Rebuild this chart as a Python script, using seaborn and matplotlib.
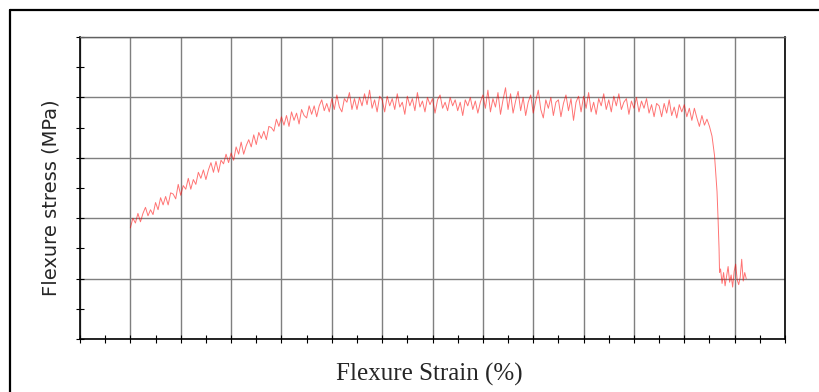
"""
Flexure stress-strain curve, redrawn with seaborn.
"""

import numpy as np
import pandas as pd
import matplotlib.pyplot as plt
from matplotlib.lines import Line2D
from matplotlib.ticker import MultipleLocator, NullFormatter
import seaborn as sns

# Strain (%) readings, one every 0.005 along the loading part
strain = [
    0.100, 0.105, 0.110, 0.115, 0.120, 0.125, 0.130, 0.135, 0.140, 0.145,
    0.150, 0.155, 0.160, 0.165, 0.170, 0.175, 0.180, 0.185, 0.190, 0.195,
    0.200, 0.205, 0.210, 0.215, 0.220, 0.225, 0.230, 0.235, 0.240, 0.245,
    0.250, 0.255, 0.260, 0.265, 0.270, 0.275, 0.280, 0.285, 0.290, 0.295,
    0.300, 0.305, 0.310, 0.315, 0.320, 0.325, 0.330, 0.335, 0.340, 0.345,
    0.350, 0.355, 0.360, 0.365, 0.370, 0.375, 0.380, 0.385, 0.390, 0.395,
    0.400, 0.405, 0.410, 0.415, 0.420, 0.425, 0.430, 0.435, 0.440, 0.445,
    0.450, 0.455, 0.460, 0.465, 0.470, 0.475, 0.480, 0.485, 0.490, 0.495,
    0.500, 0.505, 0.510, 0.515, 0.520, 0.525, 0.530, 0.535, 0.540, 0.545,
    0.550, 0.555, 0.560, 0.565, 0.570, 0.575, 0.580, 0.585, 0.590, 0.595,
    0.600, 0.605, 0.610, 0.615, 0.620, 0.625, 0.630, 0.635, 0.640, 0.645,
    0.650, 0.655, 0.660, 0.665, 0.670, 0.675, 0.680, 0.685, 0.690, 0.695,
    0.700, 0.705, 0.710, 0.715, 0.720, 0.725, 0.730, 0.735, 0.740, 0.745,
    0.750, 0.755, 0.760, 0.765, 0.770, 0.775, 0.780, 0.785, 0.790, 0.795,
    0.800, 0.805, 0.810, 0.815, 0.820, 0.825, 0.830, 0.835, 0.840, 0.845,
    0.850, 0.855, 0.860, 0.865, 0.870, 0.875, 0.880, 0.885, 0.890, 0.895,
    0.900, 0.905, 0.910, 0.915, 0.920, 0.925, 0.930, 0.935, 0.940, 0.945,
    0.950, 0.955, 0.960, 0.965, 0.970, 0.975, 0.980, 0.985, 0.990, 0.995,
    1.000, 1.005, 1.010, 1.015, 1.020, 1.025, 1.030, 1.035, 1.040, 1.045,
    1.050, 1.055, 1.060, 1.065, 1.070, 1.075, 1.080, 1.085, 1.090, 1.095,
    1.100, 1.105, 1.110, 1.115, 1.120, 1.125, 1.130, 1.135, 1.140, 1.145,
    1.150, 1.155, 1.160, 1.165, 1.170, 1.175, 1.180, 1.185, 1.190, 1.195,
    1.200, 1.205, 1.210, 1.215, 1.220, 1.225, 1.230, 1.235, 1.240, 1.245,
    1.250, 1.255, 1.260, 1.265,
]

# Stress (MPa) readings matching the strain list above
stress = [
    92, 100, 96, 104, 97, 104, 109, 102, 107, 103,
    113, 107, 117, 111, 118, 111, 121, 120, 116, 128,
    119, 127, 124, 133, 124, 132, 128, 138, 133, 140,
    132, 140, 146, 138, 147, 138, 148, 145, 153, 146,
    154, 148, 159, 153, 163, 153, 160, 165, 159, 169,
    161, 171, 166, 172, 165, 176, 175, 172, 182, 176,
    184, 177, 185, 176, 188, 181, 187, 178, 190, 185,
    183, 193, 186, 193, 184, 193, 198, 189, 195, 188,
    199, 190, 202, 192, 188, 199, 196, 204, 190, 199,
    190, 200, 193, 203, 194, 206, 191, 198, 188, 201,
    198, 188, 201, 193, 199, 190, 203, 192, 196, 186,
    201, 193, 199, 189, 204, 192, 197, 188, 200, 194,
    199, 187, 198, 202, 191, 196, 189, 200, 193, 198,
    189, 196, 185, 198, 193, 200, 190, 197, 187, 196,
    202, 191, 206, 188, 199, 192, 204, 186, 198, 208,
    190, 203, 187, 197, 205, 189, 200, 185, 196, 202,
    187, 197, 206, 190, 183, 198, 191, 200, 185, 196,
    198, 184, 195, 202, 189, 199, 181, 196, 201, 188,
    201, 191, 204, 188, 196, 186, 199, 193, 203, 190,
    198, 188, 201, 193, 203, 190, 196, 199, 186, 197,
    191, 200, 188, 197, 191, 199, 187, 194, 184, 195,
    193, 184, 195, 187, 198, 185, 192, 183, 194, 188,
    194, 184, 191, 181, 191, 183, 176, 185, 177, 182,
    176, 168, 152, 122,
]

# Sudden failure and residual load after fracture
strain_after = [1.267, 1.269, 1.270, 1.272, 1.275, 1.278, 1.281, 1.284, 1.287,
                1.290, 1.293, 1.296, 1.299, 1.302, 1.305, 1.308, 1.311, 1.314,
                1.317, 1.320, 1.323]
stress_after = [100, 75, 55, 58, 46, 55, 44, 52, 60, 47, 53, 43, 56, 62, 49,
                45, 51, 66, 48, 55, 50]

sns.set_style('white')
plt.rcParams.update({'figure.dpi': 100, 'savefig.dpi': 100})

df = pd.DataFrame({'Strain': strain + strain_after,
                   'Stress': stress + stress_after})

fig = plt.figure(figsize=(8.19, 3.92))
ax = fig.add_axes([0.0977, 0.1352, 0.8608, 0.7704])

sns.lineplot(data=df, x='Strain', y='Stress', ax=ax, sort=False,
             estimator=None, color='red', linewidth=0.7, alpha=0.55)

ax.set_xlim(0, 1.4)
ax.set_ylim(0, 250)
ax.xaxis.set_major_locator(MultipleLocator(0.1))
ax.xaxis.set_minor_locator(MultipleLocator(0.05))
ax.yaxis.set_major_locator(MultipleLocator(50))
ax.yaxis.set_minor_locator(MultipleLocator(25))
ax.xaxis.set_major_formatter(NullFormatter())
ax.yaxis.set_major_formatter(NullFormatter())

ax.grid(True, which='major', color='#7f7f7f', linewidth=1.0)
ax.set_axisbelow(True)
ax.tick_params(which='both', direction='inout', length=6, width=0.8,
               color='black', bottom=True, left=True)

for side in ['left', 'bottom', 'right']:
    ax.spines[side].set_color('black')
    ax.spines[side].set_linewidth(1.2)
ax.spines['top'].set_color('#606060')
ax.spines['top'].set_linewidth(1.0)

ax.set_ylabel('Flexure stress (MPa)', fontsize=14, family='DejaVu Sans')
ax.yaxis.set_label_coords(-0.028, 0.467)
ax.set_xlabel('Flexure Strain (%)', fontsize=18, family='Liberation Serif')
ax.xaxis.set_label_coords(0.496, -0.078)

# outer frame: only the top and left edges fall inside the image
x0, y0 = 9.5 / 819, 1 - 9.5 / 392
fig.lines.append(Line2D([x0, 1.0], [y0, y0], transform=fig.transFigure,
                        color='black', linewidth=1.6))
fig.lines.append(Line2D([x0, x0], [0.0, y0], transform=fig.transFigure,
                        color='black', linewidth=1.6))

plt.savefig('out.png')
plt.close()
